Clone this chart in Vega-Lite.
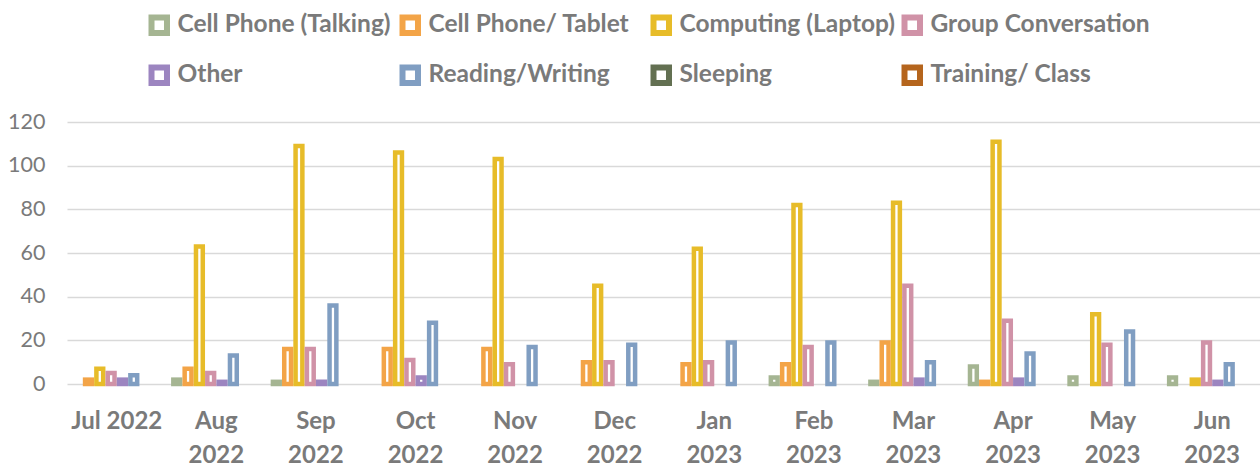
{
  "$schema": "https://vega.github.io/schema/vega-lite/v6.json",
  "autosize": {"type": "none"},
  "padding": {"left": 67, "top": 122, "right": 0, "bottom": 86},
  "width": 1195,
  "height": 262,
  "background": "white",
  "config": {"view": {"stroke": null}, "font": "Lato"},
  "data": {"values": [
    {"month": "Jul 2022", "activity": "Cell Phone/ Tablet", "value": 2},
    {"month": "Jul 2022", "activity": "Computing (Laptop)", "value": 7},
    {"month": "Jul 2022", "activity": "Group Conversation", "value": 5},
    {"month": "Jul 2022", "activity": "Other", "value": 2},
    {"month": "Jul 2022", "activity": "Reading/Writing", "value": 4},
    {"month": "Aug 2022", "activity": "Cell Phone (Talking)", "value": 2},
    {"month": "Aug 2022", "activity": "Cell Phone/ Tablet", "value": 7},
    {"month": "Aug 2022", "activity": "Computing (Laptop)", "value": 63},
    {"month": "Aug 2022", "activity": "Group Conversation", "value": 5},
    {"month": "Aug 2022", "activity": "Other", "value": 1},
    {"month": "Aug 2022", "activity": "Reading/Writing", "value": 13},
    {"month": "Sep 2022", "activity": "Cell Phone (Talking)", "value": 1},
    {"month": "Sep 2022", "activity": "Cell Phone/ Tablet", "value": 16},
    {"month": "Sep 2022", "activity": "Computing (Laptop)", "value": 109},
    {"month": "Sep 2022", "activity": "Group Conversation", "value": 16},
    {"month": "Sep 2022", "activity": "Other", "value": 1},
    {"month": "Sep 2022", "activity": "Reading/Writing", "value": 36},
    {"month": "Oct 2022", "activity": "Cell Phone/ Tablet", "value": 16},
    {"month": "Oct 2022", "activity": "Computing (Laptop)", "value": 106},
    {"month": "Oct 2022", "activity": "Group Conversation", "value": 11},
    {"month": "Oct 2022", "activity": "Other", "value": 3},
    {"month": "Oct 2022", "activity": "Reading/Writing", "value": 28},
    {"month": "Nov 2022", "activity": "Cell Phone/ Tablet", "value": 16},
    {"month": "Nov 2022", "activity": "Computing (Laptop)", "value": 103},
    {"month": "Nov 2022", "activity": "Group Conversation", "value": 9},
    {"month": "Nov 2022", "activity": "Reading/Writing", "value": 17},
    {"month": "Dec 2022", "activity": "Cell Phone/ Tablet", "value": 10},
    {"month": "Dec 2022", "activity": "Computing (Laptop)", "value": 45},
    {"month": "Dec 2022", "activity": "Group Conversation", "value": 10},
    {"month": "Dec 2022", "activity": "Reading/Writing", "value": 18},
    {"month": "Jan 2023", "activity": "Cell Phone/ Tablet", "value": 9},
    {"month": "Jan 2023", "activity": "Computing (Laptop)", "value": 62},
    {"month": "Jan 2023", "activity": "Group Conversation", "value": 10},
    {"month": "Jan 2023", "activity": "Reading/Writing", "value": 19},
    {"month": "Feb 2023", "activity": "Cell Phone (Talking)", "value": 3},
    {"month": "Feb 2023", "activity": "Cell Phone/ Tablet", "value": 9},
    {"month": "Feb 2023", "activity": "Computing (Laptop)", "value": 82},
    {"month": "Feb 2023", "activity": "Group Conversation", "value": 17},
    {"month": "Feb 2023", "activity": "Reading/Writing", "value": 19},
    {"month": "Mar 2023", "activity": "Cell Phone (Talking)", "value": 1},
    {"month": "Mar 2023", "activity": "Cell Phone/ Tablet", "value": 19},
    {"month": "Mar 2023", "activity": "Computing (Laptop)", "value": 83},
    {"month": "Mar 2023", "activity": "Group Conversation", "value": 45},
    {"month": "Mar 2023", "activity": "Other", "value": 2},
    {"month": "Mar 2023", "activity": "Reading/Writing", "value": 10},
    {"month": "Apr 2023", "activity": "Cell Phone (Talking)", "value": 8},
    {"month": "Apr 2023", "activity": "Cell Phone/ Tablet", "value": 1},
    {"month": "Apr 2023", "activity": "Computing (Laptop)", "value": 111},
    {"month": "Apr 2023", "activity": "Group Conversation", "value": 29},
    {"month": "Apr 2023", "activity": "Other", "value": 2},
    {"month": "Apr 2023", "activity": "Reading/Writing", "value": 14},
    {"month": "May 2023", "activity": "Cell Phone (Talking)", "value": 3},
    {"month": "May 2023", "activity": "Computing (Laptop)", "value": 32},
    {"month": "May 2023", "activity": "Group Conversation", "value": 18},
    {"month": "May 2023", "activity": "Reading/Writing", "value": 24},
    {"month": "Jun 2023", "activity": "Cell Phone (Talking)", "value": 3},
    {"month": "Jun 2023", "activity": "Computing (Laptop)", "value": 2},
    {"month": "Jun 2023", "activity": "Group Conversation", "value": 19},
    {"month": "Jun 2023", "activity": "Other", "value": 1},
    {"month": "Jun 2023", "activity": "Reading/Writing", "value": 9}
  ]},
  "mark": {"type": "bar", "fill": "white", "strokeWidth": 4.5, "strokeJoin": "miter"},
  "encoding": {
    "x": {
      "field": "month", "type": "nominal", "sort": null,
      "scale": {"paddingInner": 0.09, "paddingOuter": 0.045},
      "axis": {
        "title": null, "labelAngle": 0, "domain": false, "ticks": false,
        "labelFont": "Lato", "labelFontSize": 24, "labelFontWeight": "bold",
        "labelColor": "#7a7a7a", "labelPadding": 25, "labelLineHeight": 34,
        "labelExpr": "datum.value == 'Jul 2022' ? datum.value : split(datum.value, ' ')"
      }
    },
    "xOffset": {
      "field": "activity", "type": "nominal",
      "scale": {
        "domain": ["Cell Phone (Talking)", "Cell Phone/ Tablet", "Computing (Laptop)", "Group Conversation", "Other", "Reading/Writing", "Sleeping", "Training/ Class"],
        "paddingInner": 0.4, "paddingOuter": 0.2
      }
    },
    "y": {
      "field": "value", "type": "quantitative",
      "scale": {"domain": [0, 120], "nice": false},
      "axis": {
        "title": null, "values": [0, 20, 40, 60, 80, 100, 120],
        "domain": false, "ticks": false,
        "labelFont": "Lato", "labelFontSize": 21.5, "labelColor": "#7a7a7a", "labelPadding": 22,
        "gridColor": "#d9d9d9", "gridWidth": 1.5
      }
    },
    "stroke": {
      "field": "activity", "type": "nominal",
      "scale": {
        "domain": ["Cell Phone (Talking)", "Cell Phone/ Tablet", "Computing (Laptop)", "Group Conversation", "Other", "Reading/Writing", "Sleeping", "Training/ Class"],
        "range": ["#a5b592", "#f3a447", "#e7bc29", "#d092a7", "#9c85c0", "#809ec2", "#637052", "#b5651d"]
      },
      "legend": {
        "title": null, "orient": "none", "legendX": 80, "legendY": -109,
        "direction": "horizontal", "columns": 4, "gridAlign": "all",
        "columnPadding": -7, "rowPadding": 10,
        "symbolType": "square", "symbolSize": 240, "symbolStrokeWidth": 6,
        "symbolFillColor": "#ffffff", "symbolOpacity": 1,
        "labelFont": "Lato", "labelFontSize": 24.5, "labelFontWeight": "bold",
        "labelColor": "#7a7a7a", "labelOffset": 6, "labelLimit": 400
      }
    }
  }
}
